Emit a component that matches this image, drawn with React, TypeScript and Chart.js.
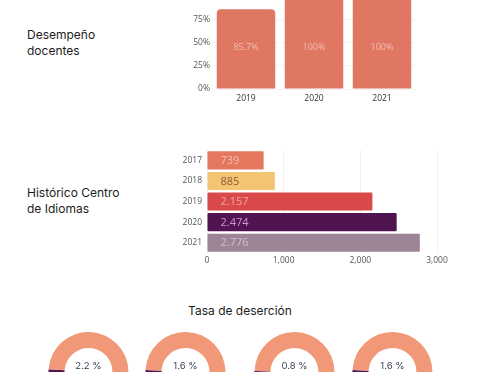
import React, { useEffect, useRef } from "react";
import { Chart, registerables } from "chart.js";

Chart.register(...registerables);

// ---- Data ----
const perfYears = ["2019", "2020", "2021"];
const perfValues = [85.7, 100, 100];
const perfLabels = ["85.7%", "100%", "100%"];
const perfTicks = [0, 25, 50, 75, 100];

const idiomYears = ["2017", "2018", "2019", "2020", "2021"];
const idiomValues = [739, 885, 2157, 2474, 2776];
const idiomLabels = ["739", "885", "2.157", "2.474", "2.776"];

const desercionValues = [2.2, 1.6, 0.8, 1.6];
const desercionLabels = ["2.2 %", "1.6 %", "0.8 %", "1.6 %"];

// ---- Styles ----
const perfColor = "#E07762";
const idiomColors = ["#E5775F", "#F3C572", "#D9494A", "#501451", "#9D8496"];
const idiomLabelColors = [
  "rgba(255,255,255,0.5)",
  "#8A5A3A",
  "rgba(255,255,255,0.5)",
  "rgba(230,170,235,0.85)",
  "rgba(255,255,255,0.5)",
];
const gaugeColors = ["#501451", "#F19878"];
const tickFont = { family: "'Open Sans', sans-serif", size: 8.5 };
const tickColor = "#555";
const titleFont = "Inter, 'Noto Sans', sans-serif";

function PerfChart() {
  const ref = useRef<HTMLCanvasElement>(null);
  useEffect(() => {
    const labelPlugin = {
      id: "perfLabels",
      afterDatasetsDraw(chart: any) {
        const ctx = chart.ctx;
        const meta = chart.getDatasetMeta(0);
        const y = chart.scales.y.getPixelForValue(45);
        ctx.save();
        ctx.font = "9px 'Open Sans', sans-serif";
        ctx.fillStyle = "rgba(255,255,255,0.5)";
        ctx.textAlign = "center";
        ctx.textBaseline = "middle";
        meta.data.forEach((bar: any, i: number) => {
          ctx.fillText(perfLabels[i], bar.x, y);
        });
        ctx.restore();
      },
    };
    const chart = new Chart(ref.current!, {
      type: "bar",
      data: {
        labels: perfYears,
        datasets: [
          {
            data: perfValues,
            backgroundColor: perfColor,
            borderRadius: { topLeft: 4, topRight: 4, bottomLeft: 0, bottomRight: 0 },
            borderSkipped: false,
            categoryPercentage: 1,
            barPercentage: 0.86,
          },
        ],
      },
      options: {
        animation: false,
        responsive: false,
        maintainAspectRatio: false,
        layout: { padding: { top: 15, left: 0, right: 0, bottom: 0 } },
        plugins: { legend: { display: false }, tooltip: { enabled: false } },
        scales: {
          x: {
            grid: { display: false, drawTicks: false },
            border: { display: false },
            ticks: { font: tickFont, color: "#333", padding: 4 },
            afterFit: (s: any) => {
              s.height = 18;
            },
          },
          y: {
            min: 0,
            max: 100,
            afterBuildTicks: (s: any) => {
              s.ticks = perfTicks.map((v) => ({ value: v }));
            },
            ticks: { font: tickFont, color: tickColor, padding: 2, callback: (v: any) => v + "%" },
            grid: { color: "#f3f3f3", drawTicks: false },
            border: { display: false },
            afterFit: (s: any) => {
              s.width = 27;
            },
          },
        },
      },
      plugins: [labelPlugin],
    });
    return () => chart.destroy();
  }, []);
  return (
    <canvas
      ref={ref}
      width={231}
      height={126}
      style={{ position: "absolute", left: 185, top: -19, width: 231, height: 126 }}
    />
  );
}

function IdiomChart() {
  const ref = useRef<HTMLCanvasElement>(null);
  useEffect(() => {
    const labelPlugin = {
      id: "idiomLabels",
      afterDatasetsDraw(chart: any) {
        const ctx = chart.ctx;
        const meta = chart.getDatasetMeta(0);
        ctx.save();
        ctx.font = "11px 'Open Sans', sans-serif";
        ctx.textAlign = "left";
        ctx.textBaseline = "middle";
        meta.data.forEach((bar: any, i: number) => {
          ctx.fillStyle = idiomLabelColors[i];
          ctx.fillText(idiomLabels[i], bar.base + 13, bar.y + 0.5);
        });
        ctx.restore();
      },
    };
    const chart = new Chart(ref.current!, {
      type: "bar",
      data: {
        labels: idiomYears,
        datasets: [
          {
            data: idiomValues,
            backgroundColor: idiomColors,
            borderRadius: 1,
            borderSkipped: false,
            categoryPercentage: 1,
            barPercentage: 0.88,
          },
        ],
      },
      options: {
        indexAxis: "y",
        animation: false,
        responsive: false,
        maintainAspectRatio: false,
        layout: { padding: { top: 9, left: 0, right: 13, bottom: 0 } },
        plugins: { legend: { display: false }, tooltip: { enabled: false } },
        scales: {
          x: {
            min: 0,
            max: 3000,
            ticks: {
              stepSize: 1000,
              font: tickFont,
              color: tickColor,
              padding: 2,
              callback: (v: any) => Number(v).toLocaleString("en-US"),
            },
            grid: { color: "#f1f1f1", drawTicks: false },
            border: { display: false },
            afterFit: (s: any) => {
              s.height = 16;
            },
          },
          y: {
            grid: { display: false, drawTicks: false },
            border: { display: false },
            ticks: { font: tickFont, color: tickColor, padding: 5 },
            afterFit: (s: any) => {
              s.width = 47;
            },
          },
        },
      },
      plugins: [labelPlugin],
    });
    return () => chart.destroy();
  }, []);
  return (
    <canvas
      ref={ref}
      width={290}
      height={129}
      style={{ position: "absolute", left: 160, top: 140, width: 290, height: 129 }}
    />
  );
}

function Gauge({ index, left }: { index: number; left: number }) {
  const ref = useRef<HTMLCanvasElement>(null);
  useEffect(() => {
    const textPlugin = {
      id: "gaugeText",
      afterDatasetsDraw(chart: any) {
        const ctx = chart.ctx;
        const arc = chart.getDatasetMeta(0).data[0];
        ctx.save();
        ctx.font = "9.5px Inter, sans-serif";
        ctx.fillStyle = "#3b3f52";
        ctx.textAlign = "center";
        ctx.textBaseline = "middle";
        ctx.fillText(desercionLabels[index], arc.x, arc.y - 6);
        ctx.restore();
      },
    };
    const v = desercionValues[index];
    const chart = new Chart(ref.current!, {
      type: "doughnut",
      data: {
        labels: ["Deserción", "Resto"],
        datasets: [
          {
            data: [v, 100 - v],
            backgroundColor: gaugeColors,
            borderWidth: 0,
            hoverOffset: 0,
          },
        ],
      },
      options: {
        animation: false,
        responsive: false,
        maintainAspectRatio: false,
        rotation: -90,
        circumference: 180,
        cutout: "60%",
        layout: { padding: 0 },
        plugins: { legend: { display: false }, tooltip: { enabled: false } },
      },
      plugins: [textPlugin],
    });
    return () => chart.destroy();
  }, [index]);
  return (
    <canvas
      ref={ref}
      width={81}
      height={40}
      style={{ position: "absolute", left, top: 332, width: 81, height: 40 }}
    />
  );
}

const gaugeLefts = [48, 145, 254, 352];

export default function App() {
  const titleStyle: React.CSSProperties = {
    position: "absolute",
    fontFamily: titleFont,
    fontSize: 12,
    lineHeight: "16px",
    color: "#1c1c1c",
    margin: 0,
  };
  return (
    <div
      style={{
        position: "fixed",
        left: 0,
        top: 0,
        width: 480,
        height: 380,
        overflow: "hidden",
        background: "#fff",
      }}
    >
      <div style={{ ...titleStyle, left: 27, top: 27 }}>
        Desempeño
        <br />
        docentes
      </div>
      <PerfChart />
      <div style={{ ...titleStyle, left: 27, top: 185 }}>
        Histórico Centro
        <br />
        de Idiomas
      </div>
      <IdiomChart />
      <div style={{ ...titleStyle, left: 0, width: 480, top: 303, textAlign: "center" }}>
        Tasa de deserción
      </div>
      {gaugeLefts.map((l, i) => (
        <Gauge key={i} index={i} left={l} />
      ))}
    </div>
  );
}
